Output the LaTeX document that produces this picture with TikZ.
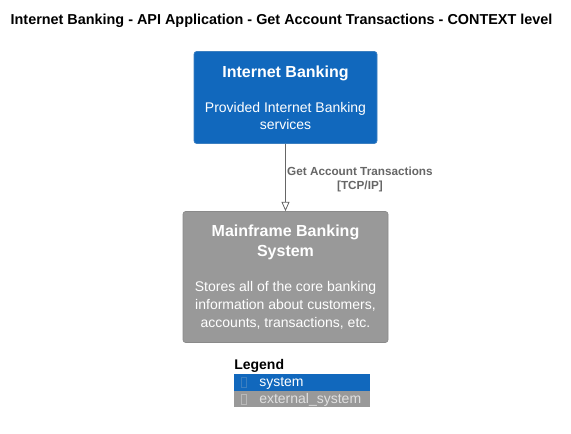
\documentclass[tikz,border=0pt]{standalone}
\usepackage{fontspec}
\setmainfont{Liberation Sans}
\usetikzlibrary{arrows.meta}
\definecolor{sysblue}{HTML}{1168BD}
\definecolor{sysblueline}{HTML}{3C7FC0}
\definecolor{extgrey}{HTML}{999999}
\definecolor{extgreyline}{HTML}{8A8A8A}
\definecolor{relgrey}{HTML}{666666}
\tikzset{
  sysbox/.style={fill=sysblue, draw=sysblueline, line width=0.5pt, rounded corners=2pt,
    text=white, align=center, inner sep=0pt},
  extbox/.style={fill=extgrey, draw=extgreyline, line width=0.5pt, rounded corners=2pt,
    text=white, align=center, inner sep=0pt},
  rel/.style={draw=relgrey, line width=0.6pt, -{Triangle[open, length=7pt, width=6pt]}},
  legrow/.style={minimum width=102pt, minimum height=12.5pt, inner sep=0pt, anchor=north west},
}
\newcommand{\boxtitle}{\bfseries\fontsize{12}{15}\selectfont}
\newcommand{\boxdesc}{\mdseries\fontsize{10.5}{13}\selectfont}
\begin{document}
\begin{tikzpicture}[x=0.75pt, y=-0.75pt]
\useasboundingbox (0,0) rectangle (571,434);
% title
\node (title) at (281.5,21) [font=\bfseries\fontsize{10.8}{12}\selectfont] {Internet Banking - API Application - Get Account Transactions - CONTEXT level};
% systems
\node (ib) at (285.5,97.5) [sysbox, minimum width=137.25pt, minimum height=69pt]
  {\boxtitle Internet Banking\\[14pt]\boxdesc Provided Internet Banking\\[0.75pt]\boxdesc services};
\node (mf) at (285.5,277) [extbox, minimum width=153.75pt, minimum height=98.25pt]
  {\boxtitle Mainframe Banking\\[3pt]\boxtitle System\\[14pt]\boxdesc Stores all of the core banking\\[1.5pt]\boxdesc information about customers,\\[1.5pt]\boxdesc accounts, transactions, etc.};
% relation
\draw[rel] (ib) -- node[anchor=west, align=center, text=relgrey, inner sep=1pt, yshift=-1.5pt,
  font=\bfseries\fontsize{8.8}{10.5}\selectfont] {Get Account Transactions\\{}[TCP/IP]} (mf);
% legend
\node (leg) at (234,366) [anchor=west, inner sep=0pt, font=\bfseries\fontsize{10.5}{12}\selectfont] {Legend};
\node (lsys) at (234,374) [legrow, fill=sysblue] {};
\node (lext) at (234,390.5) [legrow, fill=extgrey] {};
\draw[sysblueline, line width=0.5pt] (241,377.5) rectangle (246,387.5);
\draw[extgreyline!60!white, line width=0.5pt] (241,394) rectangle (246,404);
\node (lsyst) at (259,383) [anchor=west, inner sep=0pt, text=white, font=\fontsize{10.5}{12}\selectfont] {system};
\node (lextt) at (259,400) [anchor=west, inner sep=0pt, text=white!88!black, font=\fontsize{10.5}{12}\selectfont] {external\_system};
\end{tikzpicture}
\end{document}
